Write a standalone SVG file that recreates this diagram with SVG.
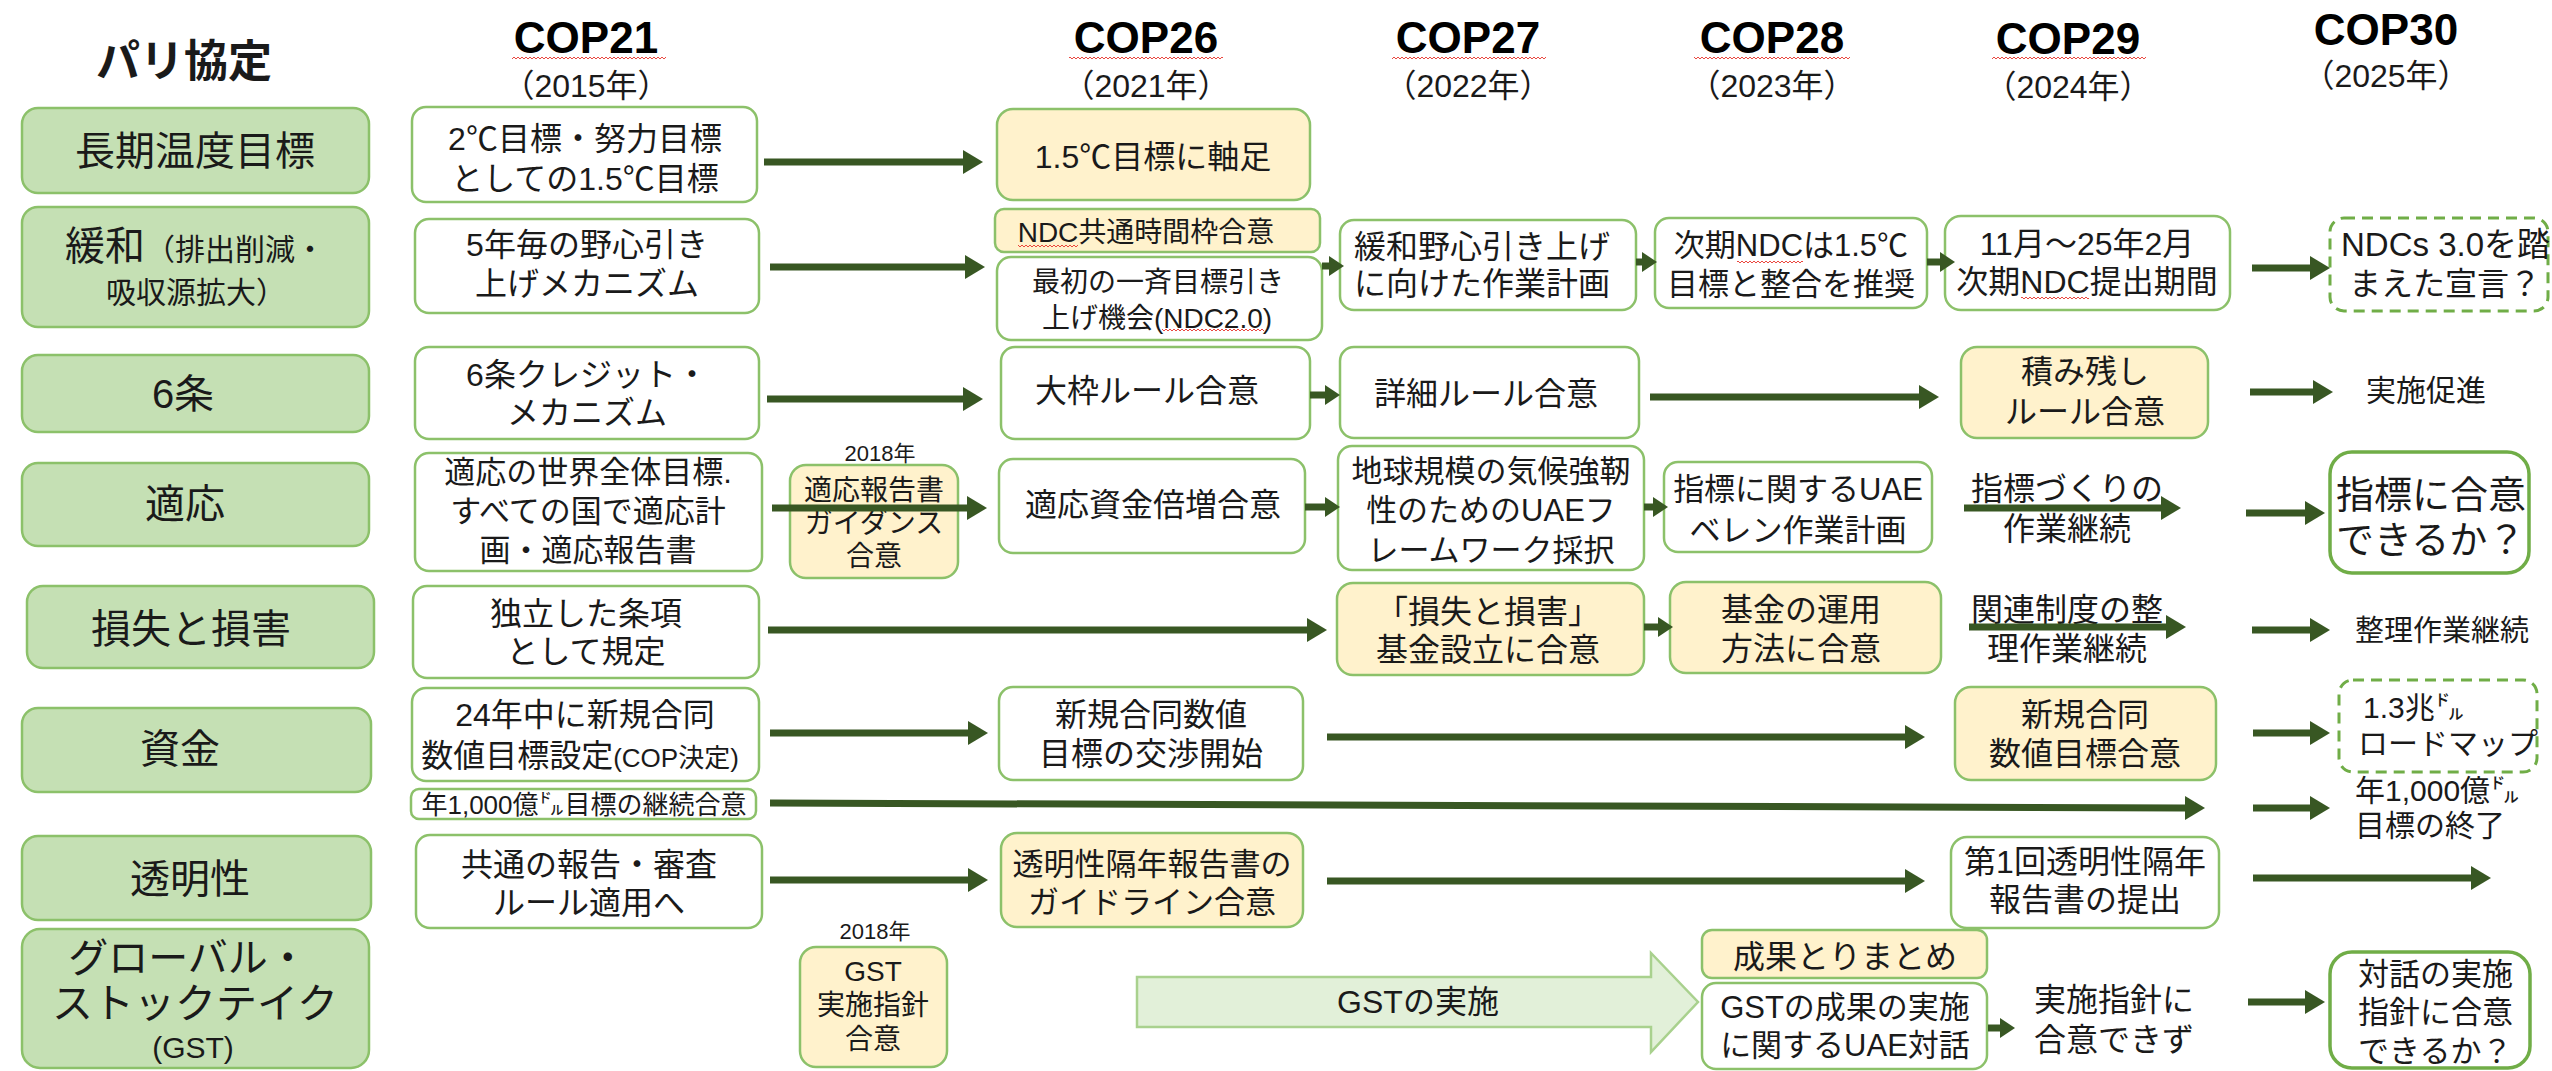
<svg xmlns="http://www.w3.org/2000/svg" width="2552" height="1071" viewBox="0 0 2552 1071">
<defs>
<style>
text{font-family:"Liberation Sans","Noto Sans CJK JP","Noto Sans CJK SC",sans-serif;fill:#1a1a1a}
.c{text-anchor:middle}
.s{text-anchor:start}
.f44{font-size:44px}.f40{font-size:40px}.f38{font-size:38px}.f32{font-size:32px}.f31{font-size:31px}.f30{font-size:30px}.f29{font-size:29px}.f28{font-size:28px}.f26{font-size:26px}.f22{font-size:22px}
.lbl{fill:#c5e0b4;stroke:#8cc16a;stroke-width:2.5}
.wb{fill:#ffffff;stroke:#8cc16a;stroke-width:2.5}
.yb{fill:#fff2cc;stroke:#8cc16a;stroke-width:2.5}
.db{fill:#ffffff;stroke:#70ad47;stroke-width:3;stroke-dasharray:11 7}
.tb{fill:#ffffff;stroke:#70ad47;stroke-width:3.5}
.cop{font-family:"Liberation Sans",Arial,sans-serif;font-weight:bold;font-size:44px;text-anchor:middle;fill:#000}
.yr{font-size:32px;text-anchor:middle}
.wv{fill:url(#wv)}
#connectors line{stroke:#385723;stroke-width:7;fill:none;marker-end:url(#ah)}
#connectors line.sm{marker-end:url(#ahs)}
</style>
<marker id="ah" markerUnits="userSpaceOnUse" viewBox="0 0 20 24" markerWidth="20" markerHeight="24" refX="0" refY="12" orient="auto"><path d="M0,0 L20,12 L0,24 Z" fill="#385723"/></marker>
<marker id="ahs" markerUnits="userSpaceOnUse" viewBox="0 0 15 20" markerWidth="15" markerHeight="20" refX="0" refY="10" orient="auto"><path d="M0,0 L15,10 L0,20 Z" fill="#385723"/></marker>
<pattern id="wv" width="4" height="4" patternUnits="userSpaceOnUse"><path d="M0,3 L2,1 L4,3" fill="none" stroke="#e8332a" stroke-width="0.9"/></pattern>
</defs>
<rect width="2552" height="1071" fill="#ffffff"/>

<g id="headers">
<text x="184" y="77" class="c f44" font-weight="bold" fill="#000">パリ協定</text>
<text x="586" y="53" class="cop">COP21</text><text x="586" y="97" class="yr">（2015年）</text>
<text x="1146" y="53" class="cop">COP26</text><text x="1146" y="97" class="yr">（2021年）</text>
<text x="1468" y="53" class="cop">COP27</text><text x="1468" y="97" class="yr">（2022年）</text>
<text x="1772" y="53" class="cop">COP28</text><text x="1772" y="97" class="yr">（2023年）</text>
<text x="2068" y="54" class="cop">COP29</text><text x="2068" y="98" class="yr">（2024年）</text>
<text x="2386" y="45" class="cop">COP30</text><text x="2386" y="87" class="yr">（2025年）</text>
<rect class="wv" x="512" y="55" width="154" height="4"/>
<rect class="wv" x="1069" y="55" width="154" height="4"/>
<rect class="wv" x="1392" y="55" width="154" height="4"/>
<rect class="wv" x="1694" y="55" width="156" height="4"/>
<rect class="wv" x="1992" y="56" width="154" height="4"/>
</g>

<!-- Row labels -->
<g id="lbl-long"><rect class="lbl" x="22" y="108" width="347" height="85" rx="16"/><text x="195" y="165" class="c f40">長期温度目標</text></g>
<g id="lbl-mitigation"><rect class="lbl" x="22" y="207" width="347" height="120" rx="16"/><text class="c"><tspan x="195" y="260" font-size="40">緩和</tspan><tspan font-size="30">（排出削減・</tspan><tspan x="196" y="303" font-size="30">吸収源拡大）</tspan></text></g>
<g id="lbl-art6"><rect class="lbl" x="22" y="355" width="347" height="77" rx="16"/><text x="183" y="408" class="c f40">6条</text></g>
<g id="lbl-adapt"><rect class="lbl" x="22" y="463" width="347" height="83" rx="16"/><text x="185" y="518" class="c f40">適応</text></g>
<g id="lbl-loss"><rect class="lbl" x="27" y="586" width="347" height="82" rx="16"/><text x="191" y="643" class="c f40">損失と損害</text></g>
<g id="lbl-finance"><rect class="lbl" x="22" y="708" width="349" height="84" rx="16"/><text x="180" y="763" class="c f40">資金</text></g>
<g id="lbl-transp"><rect class="lbl" x="22" y="836" width="349" height="84" rx="16"/><text x="190" y="893" class="c f40">透明性</text></g>
<g id="lbl-gst"><rect class="lbl" x="22" y="929" width="347" height="139" rx="18"/><text class="c"><tspan x="188" y="972" font-size="40">グローバル・</tspan><tspan x="195" y="1018" font-size="41">ストックテイク</tspan><tspan x="193" y="1058" font-size="30">(GST)</tspan></text></g>

<!-- COP21 -->
<g id="cop21-long"><rect class="wb" x="412" y="107" width="345" height="95" rx="14"/><text class="c f32"><tspan x="585" y="150">2℃目標・努力目標</tspan><tspan x="585" y="190">としての1.5℃目標</tspan></text></g>
<g id="cop21-mit"><rect class="wb" x="415" y="219" width="344" height="94" rx="14"/><text class="c f32"><tspan x="587" y="256">5年毎の野心引き</tspan><tspan x="587" y="295">上げメカニズム</tspan></text></g>
<g id="cop21-art6"><rect class="wb" x="415" y="347" width="344" height="92" rx="14"/><text class="c f32"><tspan x="587" y="386">6条クレジット・</tspan><tspan x="587" y="424">メカニズム</tspan></text></g>
<g id="cop21-adapt"><rect class="wb" x="415" y="453" width="347" height="118" rx="14"/><text class="c f31"><tspan x="588" y="483">適応の世界全体目標.</tspan><tspan x="588" y="522">すべての国で適応計</tspan><tspan x="588" y="561">画・適応報告書</tspan></text></g>
<g id="cop21-loss"><rect class="wb" x="413" y="586" width="346" height="92" rx="14"/><text class="c f32"><tspan x="586" y="625">独立した条項</tspan><tspan x="586" y="663">として規定</tspan></text></g>
<g id="cop21-fin"><rect class="wb" x="412" y="688" width="347" height="93" rx="14"/><text class="c"><tspan x="585" y="726" font-size="32">24年中に新規合同</tspan><tspan x="580" y="767" font-size="32">数値目標設定</tspan><tspan font-size="26">(COP決定)</tspan></text></g>
<g id="cop21-fin100"><rect class="wb" x="411" y="789" width="345" height="30" rx="8"/><text x="584" y="814" class="c f26">年1,000億㌦目標の継続合意</text></g>
<g id="cop21-transp"><rect class="wb" x="416" y="835" width="346" height="93" rx="14"/><text class="c f32"><tspan x="589" y="876">共通の報告・審査</tspan><tspan x="589" y="914">ルール適用へ</tspan></text></g>

<!-- 2018 -->
<g id="y2018-adapt"><text x="880" y="461" class="c f22">2018年</text><rect class="yb" x="790" y="465" width="168" height="113" rx="16"/><text class="c f28"><tspan x="874" y="500">適応報告書</tspan><tspan x="874" y="533">ガイダンス</tspan><tspan x="874" y="566">合意</tspan></text></g>
<g id="y2018-gst"><text x="875" y="939" class="c f22">2018年</text><rect class="yb" x="800" y="947" width="147" height="120" rx="16"/><text class="c f28"><tspan x="873" y="981">GST</tspan><tspan x="873" y="1015">実施指針</tspan><tspan x="873" y="1049">合意</tspan></text></g>

<!-- COP26 -->
<g id="cop26-long"><rect class="yb" x="997" y="109" width="313" height="91" rx="16"/><text x="1153" y="168" class="c f32">1.5℃目標に軸足</text></g>
<g id="cop26-ndc"><rect class="yb" x="995" y="209" width="325" height="43" rx="9"/><text x="1146" y="242" class="c f28">NDC共通時間枠合意</text><rect class="wv" x="1018" y="244" width="60" height="4"/></g>
<g id="cop26-mit"><rect class="wb" x="997" y="257" width="325" height="83" rx="14"/><text class="c f28"><tspan x="1158" y="292">最初の一斉目標引き</tspan><tspan x="1157" y="328">上げ機会(NDC2.0)</tspan></text><rect class="wv" x="1162" y="329" width="102" height="4"/></g>
<g id="cop26-art6"><rect class="wb" x="1001" y="347" width="309" height="92" rx="14"/><text x="1147" y="402" class="c f32">大枠ルール合意</text></g>
<g id="cop26-adapt"><rect class="wb" x="999" y="459" width="306" height="94" rx="14"/><text x="1153" y="516" class="c f32">適応資金倍増合意</text></g>
<g id="cop26-fin"><rect class="wb" x="999" y="687" width="304" height="93" rx="14"/><text class="c f32"><tspan x="1151" y="726">新規合同数値</tspan><tspan x="1151" y="765">目標の交渉開始</tspan></text></g>
<g id="cop26-transp"><rect class="yb" x="1001" y="833" width="302" height="94" rx="16"/><text class="c f31"><tspan x="1152" y="875">透明性隔年報告書の</tspan><tspan x="1152" y="913">ガイドライン合意</tspan></text></g>

<!-- COP27 -->
<g id="cop27-mit"><rect class="wb" x="1340" y="220" width="296" height="90" rx="14"/><text class="c f32"><tspan x="1482" y="258">緩和野心引き上げ</tspan><tspan x="1482" y="295">に向けた作業計画</tspan></text></g>
<g id="cop27-art6"><rect class="wb" x="1340" y="347" width="299" height="91" rx="14"/><text x="1486" y="405" class="c f32">詳細ルール合意</text></g>
<g id="cop27-adapt"><rect class="wb" x="1338" y="446" width="306" height="124" rx="14"/><text class="c f31"><tspan x="1491" y="482">地球規模の気候強靭</tspan><tspan x="1491" y="521">性のためのUAEフ</tspan><tspan x="1491" y="561">レームワーク採択</tspan></text></g>
<g id="cop27-loss"><rect class="yb" x="1337" y="583" width="307" height="92" rx="16"/><text class="c f32"><tspan x="1488" y="623">「損失と損害」</tspan><tspan x="1488" y="661">基金設立に合意</tspan></text></g>

<!-- GST implementation arrow -->
<g id="gst-impl"><polygon points="1137,977 1651,977 1651,953 1698,1002 1651,1052 1651,1027 1137,1027" fill="#e2f0d9" stroke="#a9d18e" stroke-width="2.5"/><text x="1418" y="1013" class="c f32">GSTの実施</text></g>

<!-- COP28 -->
<g id="cop28-mit"><rect class="wb" x="1655" y="218" width="272" height="90" rx="14"/><text class="c f31"><tspan x="1791" y="256">次期NDCは1.5℃</tspan><tspan x="1791" y="295">目標と整合を推奨</tspan></text><rect class="wv" x="1737" y="259" width="66" height="4"/></g>
<g id="cop28-adapt"><rect class="wb" x="1664" y="462" width="268" height="90" rx="14"/><text class="c f31"><tspan x="1798" y="500">指標に関するUAE</tspan><tspan x="1798" y="541">ベレン作業計画</tspan></text></g>
<g id="cop28-loss"><rect class="yb" x="1670" y="582" width="271" height="91" rx="16"/><text class="c f32"><tspan x="1801" y="621">基金の運用</tspan><tspan x="1801" y="660">方法に合意</tspan></text></g>
<g id="cop28-gst-a"><rect class="yb" x="1702" y="930" width="285" height="48" rx="10"/><text x="1845" y="968" class="c f32">成果とりまとめ</text></g>
<g id="cop28-gst-b"><rect class="wb" x="1702" y="983" width="285" height="86" rx="14"/><text class="c f31"><tspan x="1845" y="1018">GSTの成果の実施</tspan><tspan x="1845" y="1056">に関するUAE対話</tspan></text></g>

<!-- COP29 -->
<g id="cop29-mit"><rect class="wb" x="1945" y="216" width="285" height="94" rx="16"/><text class="c f32"><tspan x="2087" y="255">11月～25年2月</tspan><tspan x="2087" y="293">次期NDC提出期間</tspan></text><rect class="wv" x="2021" y="296" width="68" height="4"/></g>
<g id="cop29-art6"><rect class="yb" x="1961" y="347" width="247" height="91" rx="16"/><text class="c f32"><tspan x="2085" y="383">積み残し</tspan><tspan x="2085" y="423">ルール合意</tspan></text></g>
<g id="cop29-adapt"><text class="c f32"><tspan x="2067" y="500">指標づくりの</tspan><tspan x="2067" y="540">作業継続</tspan></text></g>
<g id="cop29-loss"><text class="c f32"><tspan x="2067" y="621">関連制度の整</tspan><tspan x="2067" y="660">理作業継続</tspan></text></g>
<g id="cop29-fin"><rect class="yb" x="1955" y="687" width="261" height="93" rx="16"/><text class="c f32"><tspan x="2085" y="726">新規合同</tspan><tspan x="2085" y="765">数値目標合意</tspan></text></g>
<g id="cop29-transp"><rect class="wb" x="1951" y="837" width="268" height="91" rx="16"/><text class="c f32"><tspan x="2085" y="873">第1回透明性隔年</tspan><tspan x="2085" y="911">報告書の提出</tspan></text></g>
<g id="cop29-gst"><text class="s f32"><tspan x="2034" y="1011">実施指針に</tspan><tspan x="2034" y="1051">合意できず</tspan></text></g>

<!-- COP30 -->
<g id="cop30-mit"><rect class="db" x="2330" y="218" width="218" height="93" rx="14"/><text class="s"><tspan x="2341" y="256" font-size="33">NDCs 3.0を踏</tspan><tspan x="2349" y="295" font-size="32">まえた宣言？</tspan></text></g>
<g id="cop30-art6"><text x="2366" y="401" class="s f30">実施促進</text></g>
<g id="cop30-adapt"><rect class="tb" x="2330" y="452" width="199" height="121" rx="22"/><text class="s f38"><tspan x="2336" y="508">指標に合意</tspan><tspan x="2336" y="553">できるか？</tspan></text></g>
<g id="cop30-loss"><text x="2355" y="641" class="s f29">整理作業継続</text></g>
<g id="cop30-fin"><rect class="db" x="2339" y="680" width="198" height="92" rx="14"/><text class="s f30"><tspan x="2363" y="718">1.3兆㌦</tspan><tspan x="2358" y="754">ロードマップ</tspan></text></g>
<g id="cop30-fin100"><text class="s f30"><tspan x="2355" y="801">年1,000億㌦</tspan><tspan x="2355" y="836">目標の終了</tspan></text></g>
<g id="cop30-gst"><rect class="tb" x="2330" y="952" width="200" height="116" rx="22"/><text class="s f31"><tspan x="2358" y="985">対話の実施</tspan><tspan x="2358" y="1023">指針に合意</tspan><tspan x="2358" y="1062">できるか？</tspan></text></g>

<g id="connectors">
<line x1="764" y1="162" x2="963" y2="162"/>
<line x1="770" y1="267" x2="965" y2="267"/>
<line class="sm" x1="1322" y1="266" x2="1329" y2="266"/>
<line class="sm" x1="1636" y1="262" x2="1642" y2="262"/>
<line class="sm" x1="1927" y1="262" x2="1940" y2="262"/>
<line x1="2252" y1="268" x2="2310" y2="268"/>
<line x1="767" y1="399" x2="963" y2="399"/>
<line class="sm" x1="1310" y1="395" x2="1325" y2="395"/>
<line x1="1650" y1="397" x2="1919" y2="397"/>
<line x1="2250" y1="392" x2="2313" y2="392"/>
<line x1="772" y1="508" x2="967" y2="508"/>
<line class="sm" x1="1305" y1="507" x2="1325" y2="507"/>
<line class="sm" x1="1644" y1="507" x2="1653" y2="507"/>
<line x1="1964" y1="508" x2="2161" y2="508"/>
<line x1="2246" y1="513" x2="2305" y2="513"/>
<line x1="768" y1="630" x2="1307" y2="630"/>
<line class="sm" x1="1644" y1="627" x2="1658" y2="627"/>
<line x1="1969" y1="627" x2="2166" y2="627"/>
<line x1="2252" y1="630" x2="2310" y2="630"/>
<line x1="770" y1="733" x2="968" y2="733"/>
<line x1="1327" y1="737" x2="1905" y2="737"/>
<line x1="2253" y1="733" x2="2310" y2="733"/>
<line x1="770" y1="803" x2="2185" y2="808"/>
<line x1="2253" y1="808" x2="2310" y2="808"/>
<line x1="770" y1="880" x2="968" y2="880"/>
<line x1="1327" y1="881" x2="1905" y2="881"/>
<line x1="2253" y1="878" x2="2471" y2="878"/>
<line class="sm" x1="1988" y1="1028" x2="2000" y2="1028"/>
<line x1="2248" y1="1002" x2="2305" y2="1002"/>
</g>
</svg>
